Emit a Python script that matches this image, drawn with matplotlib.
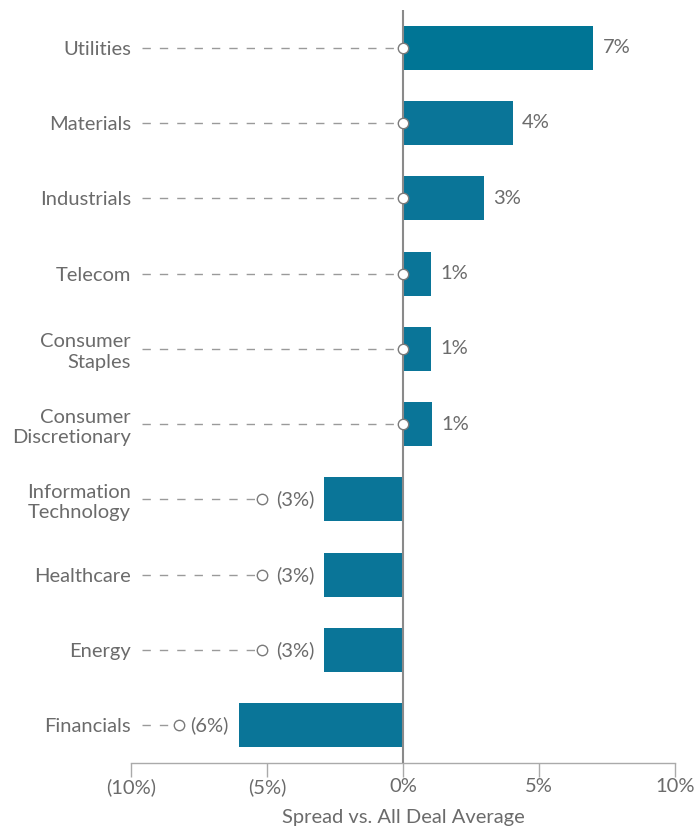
import numpy as np
import matplotlib
matplotlib.use("Agg")
import matplotlib.pyplot as plt

# ==================
# Data
# ==================
sectors = ["Utilities", "Materials", "Industrials", "Telecom", "Consumer\nStaples",
           "Consumer\nDiscretionary", "Information\nTechnology", "Healthcare",
           "Energy", "Financials"]
spread = [7.0, 4.04, 2.98, 1.03, 1.03, 1.07, -2.9, -2.9, -2.9, -6.03]
labels = ["7%", "4%", "3%", "1%", "1%", "1%", "(3%)", "(3%)", "(3%)", "(6%)"]
xticks = [-10, -5, 0, 5, 10]
xticklabels = ["(10%)", "(5%)", "0%", "5%", "10%"]

plt.rcParams['font.family'] = ['Lato', 'DejaVu Sans']
txt_color = '#6b6b6b'
bar_color = '#0a7598'
fs = 14.5

fig = plt.figure(figsize=(6.97, 8.30), dpi=100)
ax = fig.add_axes([131/697, 1 - 763/830, 544/697, 753/830])

y = np.arange(len(sectors))
colors = [bar_color] * len(sectors)
colors[0] = '#007595'
ax.barh(y, spread, height=0.585, color=colors, zorder=2)

px = 27.2  # pixels per 1%
for i, v in enumerate(spread):
    if v >= 0:
        cx = 0
        ax.text(v + 9 / px, i, labels[i], ha='left', va='center', fontsize=fs, color=txt_color)
    else:
        cx = v - 62 / px if v > -5 else v - 60 / px
        ax.text(v - 10 / px, i, labels[i], ha='right', va='center', fontsize=fs, color=txt_color)
    # dashed leader from label to circle
    ax.plot([-10 + 11 / px, cx - 5 / px], [i, i], color='#9a9a9a', lw=1,
            dashes=(6, 6.5), zorder=1, clip_on=False)
    ax.plot(cx, i, 'o', ms=7.5, mfc='white', mec='#7a7a7a', mew=1, zorder=4, clip_on=False)

ax.axvline(0, color='#8a8a8a', lw=1.5, zorder=3)

ax.set_xlim(-10, 10)
ax.set_ylim(len(sectors) - 0.5, -0.5)
ax.set_yticks(y)
ax.set_yticklabels(sectors, fontsize=fs, color=txt_color, linespacing=1.25)
ax.tick_params(axis='y', length=0, pad=0)
ax.set_xticks(xticks)
ax.set_xticklabels(xticklabels, fontsize=fs, color=txt_color)
ax.tick_params(axis='x', length=10, width=1, color='#aaaaaa', pad=1)
ax.set_xlabel("Spread vs. All Deal Average", fontsize=fs, color=txt_color, labelpad=9)

for s in ['top', 'right', 'left']:
    ax.spines[s].set_visible(False)
ax.spines['bottom'].set_color('#aaaaaa')
ax.spines['bottom'].set_linewidth(1)

plt.savefig('out.png', dpi=100)
plt.close()
